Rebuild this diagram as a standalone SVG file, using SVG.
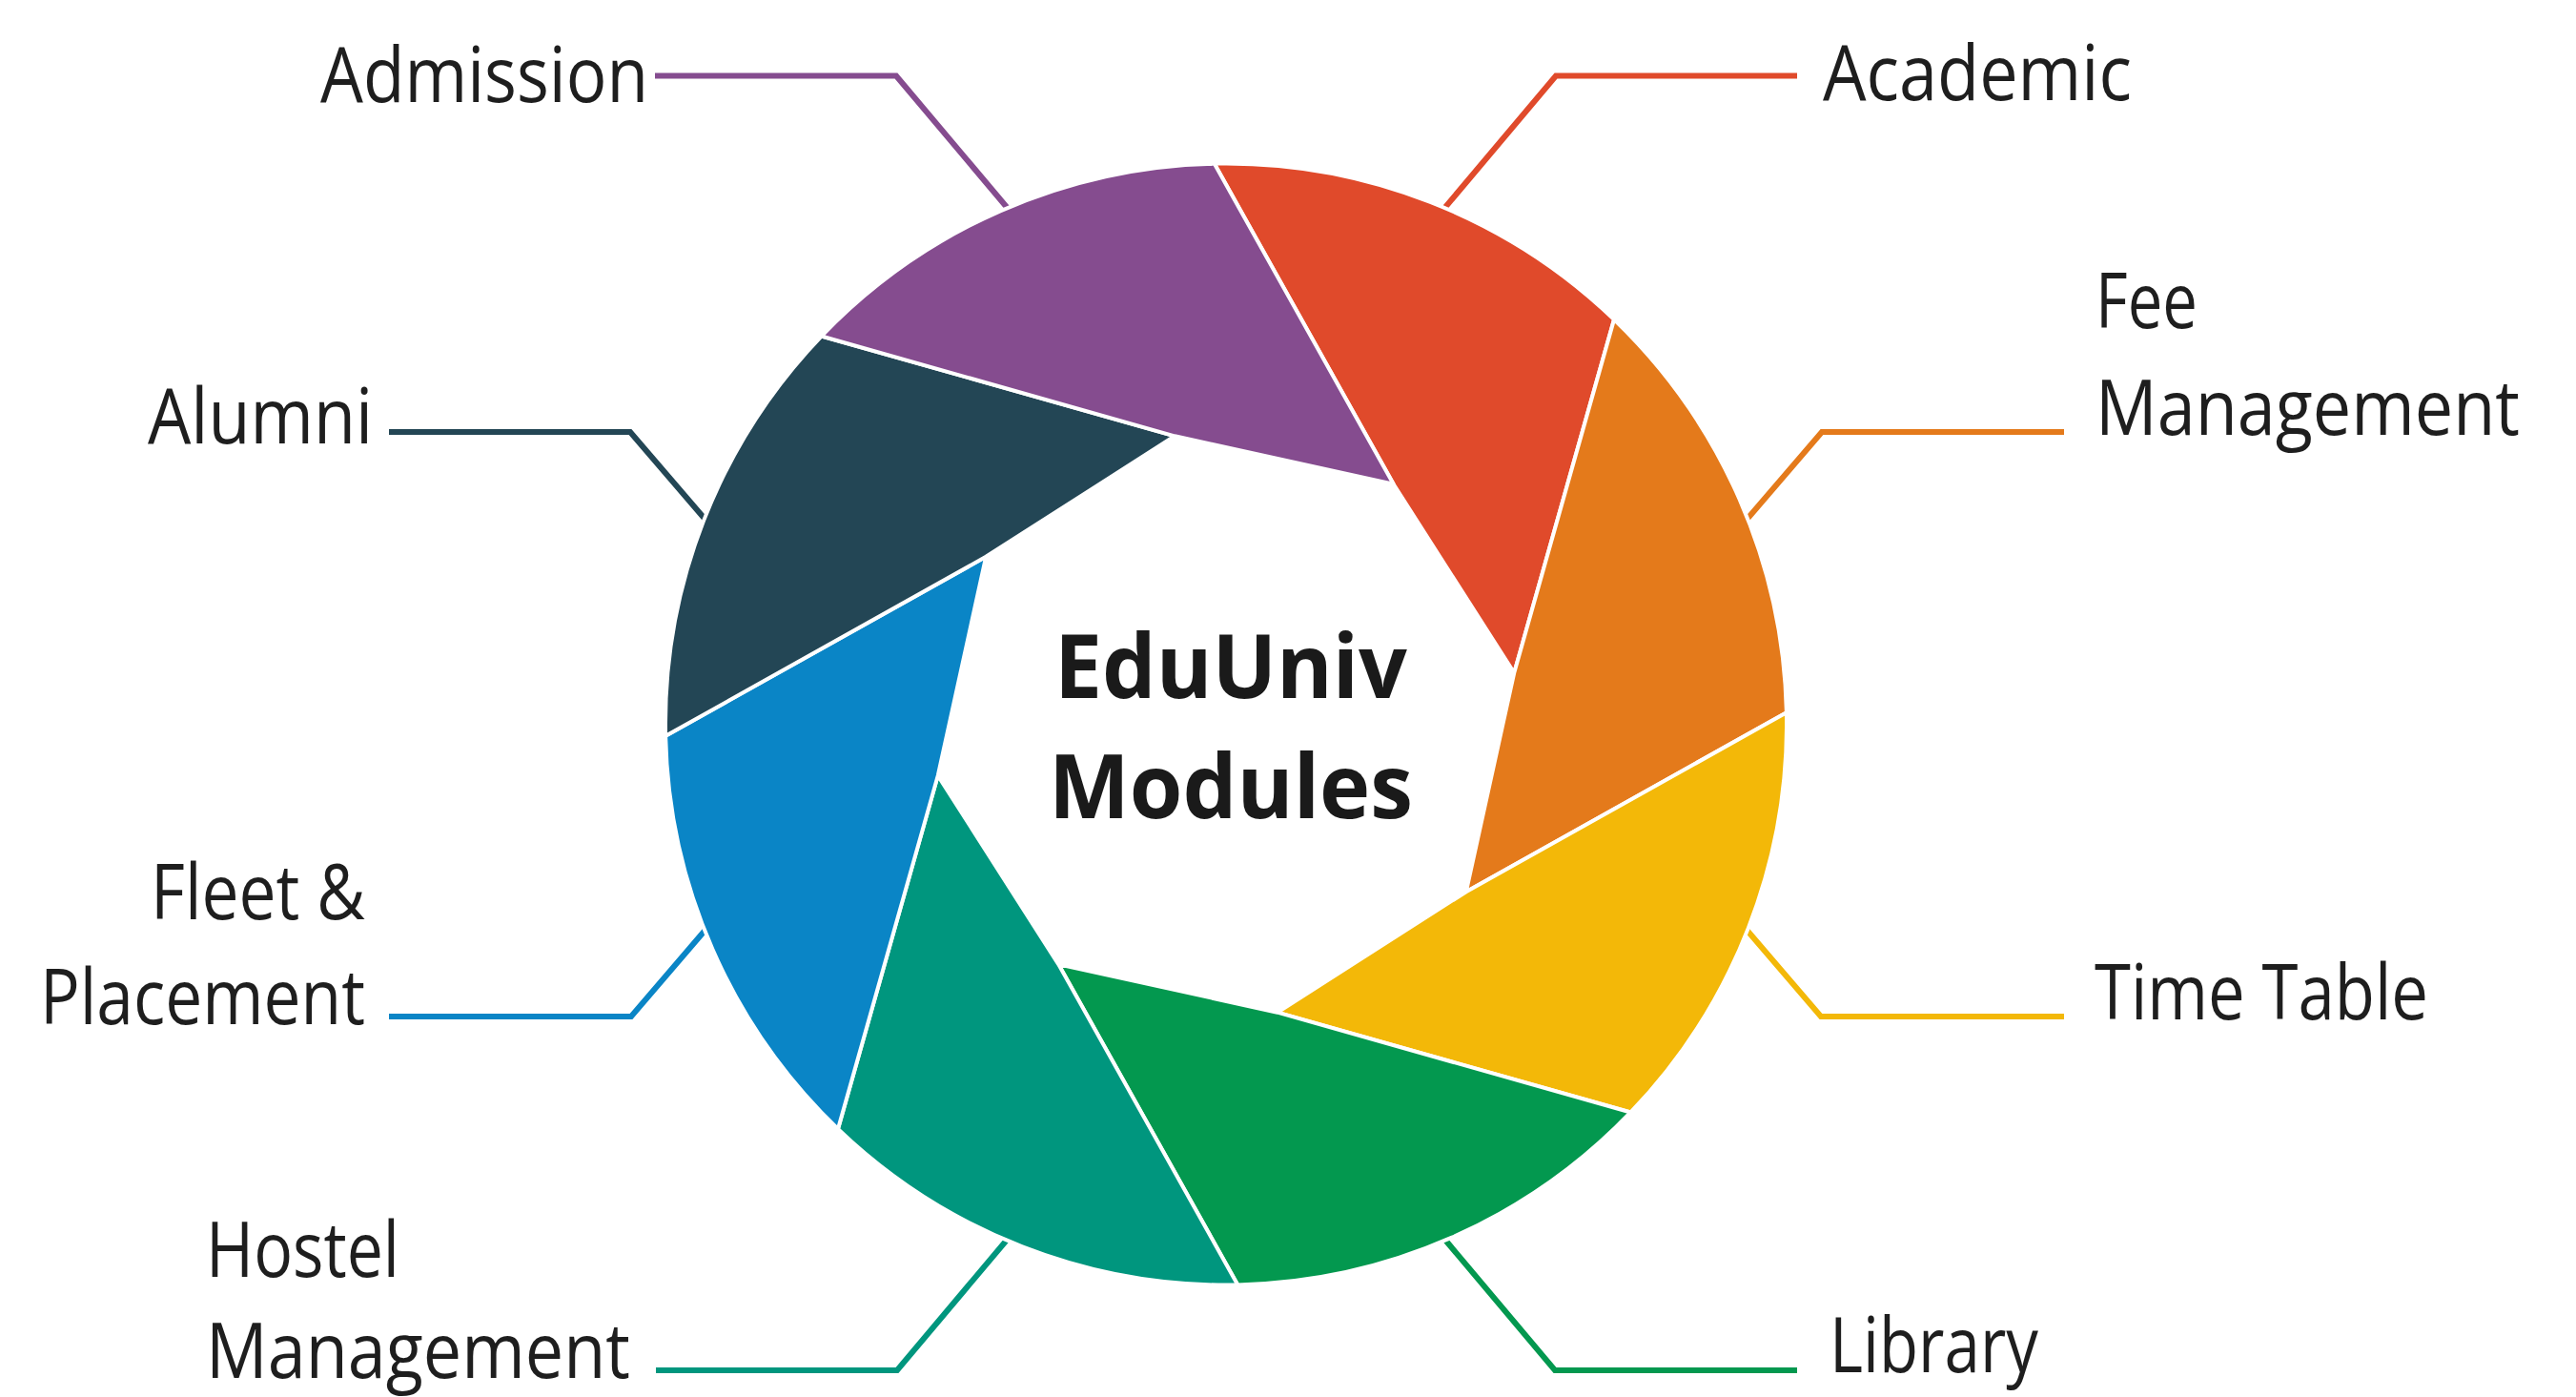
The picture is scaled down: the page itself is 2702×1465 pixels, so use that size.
<svg xmlns="http://www.w3.org/2000/svg" width="2702" height="1465" viewBox="0 0 2702 1465">
<style>
.lbl{font-family:"Open Sans","Noto Sans","Liberation Sans",sans-serif;font-size:81px;fill:#1e1e1e;}
.ttl{font-family:"Open Sans","Noto Sans","Liberation Sans",sans-serif;font-size:94px;font-weight:700;fill:#1a1a1a;text-anchor:middle;}
.con{fill:none;stroke-width:6;stroke-linejoin:miter;}
.blade{stroke:#ffffff;stroke-width:4;stroke-linejoin:round;}
</style>
<rect width="2702" height="1465" fill="#ffffff"/>
<g id="connectors">
<polyline class="con" stroke="#854C8F" points="687,79.5 940,79.5 1060,222"/>
<polyline class="con" stroke="#E04A2B" points="1885,79.5 1632,79.5 1512,222"/>
<polyline class="con" stroke="#E47A1B" points="2165,453 1911,453 1826,552"/>
<polyline class="con" stroke="#F3B808" points="2165,1066 1910,1066 1826,968"/>
<polyline class="con" stroke="#03984F" points="1885,1437 1631,1437 1514,1298"/>
<polyline class="con" stroke="#00967E" points="688,1437 941,1437 1058,1298"/>
<polyline class="con" stroke="#0A85C6" points="408,1066 662,1066 746,968"/>
<polyline class="con" stroke="#234655" points="408,453 661,453 746,552"/>
</g>
<g id="academic" class="node">
<path class="blade" fill="#E04A2B" d="M1273.7,171.6 L1461.7,507.8 L1588.2,705.7 L1693.0,335.1 A588,588 0 0 0 1273.7,171.6 Z"/>
<text class="lbl" x="1912" y="105" textLength="324" lengthAdjust="spacingAndGlyphs">Academic</text>
</g>
<g id="fee" class="node">
<path class="blade" fill="#E47A1B" d="M1693.0,335.1 L1588.2,705.7 L1537.8,935.2 L1873.9,747.2 A588,588 0 0 0 1693.0,335.1 Z"/>
<text class="lbl" x="2198" y="344" textLength="107" lengthAdjust="spacingAndGlyphs">Fee</text>
<text class="lbl" x="2198" y="456" textLength="445" lengthAdjust="spacingAndGlyphs">Management</text>
</g>
<g id="timetable" class="node">
<path class="blade" fill="#F3B808" d="M1873.9,747.2 L1537.8,935.2 L1339.8,1061.7 L1710.4,1166.5 A588,588 0 0 0 1873.9,747.2 Z"/>
<text class="lbl" x="2197" y="1069" textLength="350" lengthAdjust="spacingAndGlyphs">Time Table</text>
</g>
<g id="library" class="node">
<path class="blade" fill="#03984F" d="M1710.4,1166.5 L1339.8,1061.7 L1110.3,1011.3 L1298.3,1347.4 A588,588 0 0 0 1710.4,1166.5 Z"/>
<text class="lbl" x="1919" y="1439" textLength="219" lengthAdjust="spacingAndGlyphs">Library</text>
</g>
<g id="hostel" class="node">
<path class="blade" fill="#00967E" d="M1298.3,1347.4 L1110.3,1011.3 L983.8,813.3 L879.0,1183.9 A588,588 0 0 0 1298.3,1347.4 Z"/>
<text class="lbl" x="216" y="1339" textLength="203" lengthAdjust="spacingAndGlyphs">Hostel</text>
<text class="lbl" x="216" y="1445" textLength="445" lengthAdjust="spacingAndGlyphs">Management</text>
</g>
<g id="fleet" class="node">
<path class="blade" fill="#0A85C6" d="M879.0,1183.9 L983.8,813.3 L1034.2,583.8 L698.1,771.8 A588,588 0 0 0 879.0,1183.9 Z"/>
<text class="lbl" x="158" y="964" textLength="225" lengthAdjust="spacingAndGlyphs">Fleet &amp;</text>
<text class="lbl" x="42" y="1074" textLength="341" lengthAdjust="spacingAndGlyphs">Placement</text>
</g>
<g id="alumni" class="node">
<path class="blade" fill="#234655" d="M698.1,771.8 L1034.2,583.8 L1232.2,457.3 L861.6,352.5 A588,588 0 0 0 698.1,771.8 Z"/>
<text class="lbl" x="155" y="465" textLength="236" lengthAdjust="spacingAndGlyphs">Alumni</text>
</g>
<g id="admission" class="node">
<path class="blade" fill="#854C8F" d="M861.6,352.5 L1232.2,457.3 L1461.7,507.8 L1273.7,171.6 A588,588 0 0 0 861.6,352.5 Z"/>
<text class="lbl" x="336" y="107" textLength="344" lengthAdjust="spacingAndGlyphs">Admission</text>
</g>
<g id="center" class="node">
<text class="ttl" x="1291" y="732" textLength="370" lengthAdjust="spacingAndGlyphs">EduUniv</text>
<text class="ttl" x="1291" y="858" textLength="382" lengthAdjust="spacingAndGlyphs">Modules</text>
</g>
</svg>
